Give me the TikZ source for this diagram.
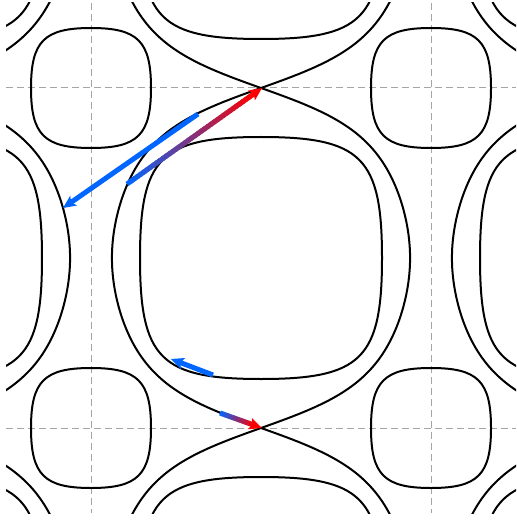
\documentclass[tikz,border=0pt]{standalone}
\usetikzlibrary{arrows.meta,calc}
\definecolor{myblue}{RGB}{0,102,255}
\definecolor{myred}{RGB}{255,0,0}
\definecolor{gridgray}{RGB}{165,165,165}
\tikzset{
  contour/.style={black, line width=2pt},
  gridline/.style={gridgray, line width=1pt, dash pattern=on 7pt off 4pt},
  shaft/.style={line width=5pt},
}
% rounded square: cx, cy, R, k
\newcommand\mysquircle[4]{%
  \draw[contour] ({#1+#3},#2) .. controls ({#1+#3},{#2+#4*#3}) and ({#1+#4*#3},{#2+#3}) .. (#1,{#2+#3})
   .. controls ({#1-#4*#3},{#2+#3}) and ({#1-#3},{#2+#4*#3}) .. ({#1-#3},#2)
   .. controls ({#1-#3},{#2-#4*#3}) and ({#1-#4*#3},{#2-#3}) .. (#1,{#2-#3})
   .. controls ({#1+#4*#3},{#2-#3}) and ({#1+#3},{#2-#4*#3}) .. cycle;}
% separatrix chain: column centre xc, side sign
\newcommand\myeye[2]{%
  \draw[contour] plot[domain=-275:275, samples=551]
   ({#1 + #2*0.944444*acos(min(1,max(-1,(0.7657+cos(\x))/(-1.0705-0.8362*cos(\x)))))},
    {258 + 0.944444*\x});}
% arrow head: tail, tip, colour
\newcommand\headat[3]{%
  \coordinate (hb) at ($(#2)!13pt!(#1)$);
  \coordinate (hi) at ($(#2)!10pt!(#1)$);
  \fill[#3] (#2) -- ($(hb)!6pt!90:(#2)$) -- (hi) -- ($(hb)!6pt!-90:(#2)$) -- cycle;}
% gradient shaft: tail, tip
\newcommand\gradshaft[2]{%
  \coordinate (ge) at ($(#2)!9pt!(#1)$);
  \foreach \i in {0,...,39}{%
    \pgfmathtruncatemacro\p{round(100*\i/39)}%
    \draw[shaft, red!\p!myblue] ($(#1)!{\i/40}!(ge)$) -- ($(#1)!{min(1,(\i+1.6)/40)}!(ge)$);}}
\begin{document}
\begin{tikzpicture}[x=1pt,y=-1pt]
\useasboundingbox (0,0) rectangle (516,521);
\begin{scope}
\clip (6,3) rectangle (516,513);
% grid
\draw[gridline] (91,3) -- (91,513);
\draw[gridline] (431,3) -- (431,513);
\draw[gridline] (6,88) -- (516,88);
\draw[gridline] (6,428) -- (516,428);
% separatrices
\myeye{-79}{1}
\myeye{261}{1}
\myeye{261}{-1}
\myeye{601}{-1}
% big wells
\foreach \cx in {-79,261,601}{
  \foreach \cy in {-82,258,598}{
    \mysquircle{\cx}{\cy}{121}{0.83}
  }
}
% small wells
\foreach \cx in {91,431}{
  \foreach \cy in {88,428}{
    \mysquircle{\cx}{\cy}{60}{0.78}
  }
}
\end{scope}
% arrows
\coordinate (aT) at (127,184);
\coordinate (aH) at (262,88);
\coordinate (bT) at (198,114);
\coordinate (bH) at (63,208);
\coordinate (cT) at (213,375);
\coordinate (cH) at (171,359);
\coordinate (dT) at (220,413);
\coordinate (dH) at (262,428);
\draw[shaft, myblue] (bT) -- ($(bH)!9pt!(bT)$);
\headat{bT}{bH}{myblue}
\draw[shaft, myblue] (cT) -- ($(cH)!9pt!(cT)$);
\headat{cT}{cH}{myblue}
\gradshaft{aT}{aH}
\headat{aT}{aH}{myred}
\gradshaft{dT}{dH}
\headat{dT}{dH}{myred}
\end{tikzpicture}
\end{document}
